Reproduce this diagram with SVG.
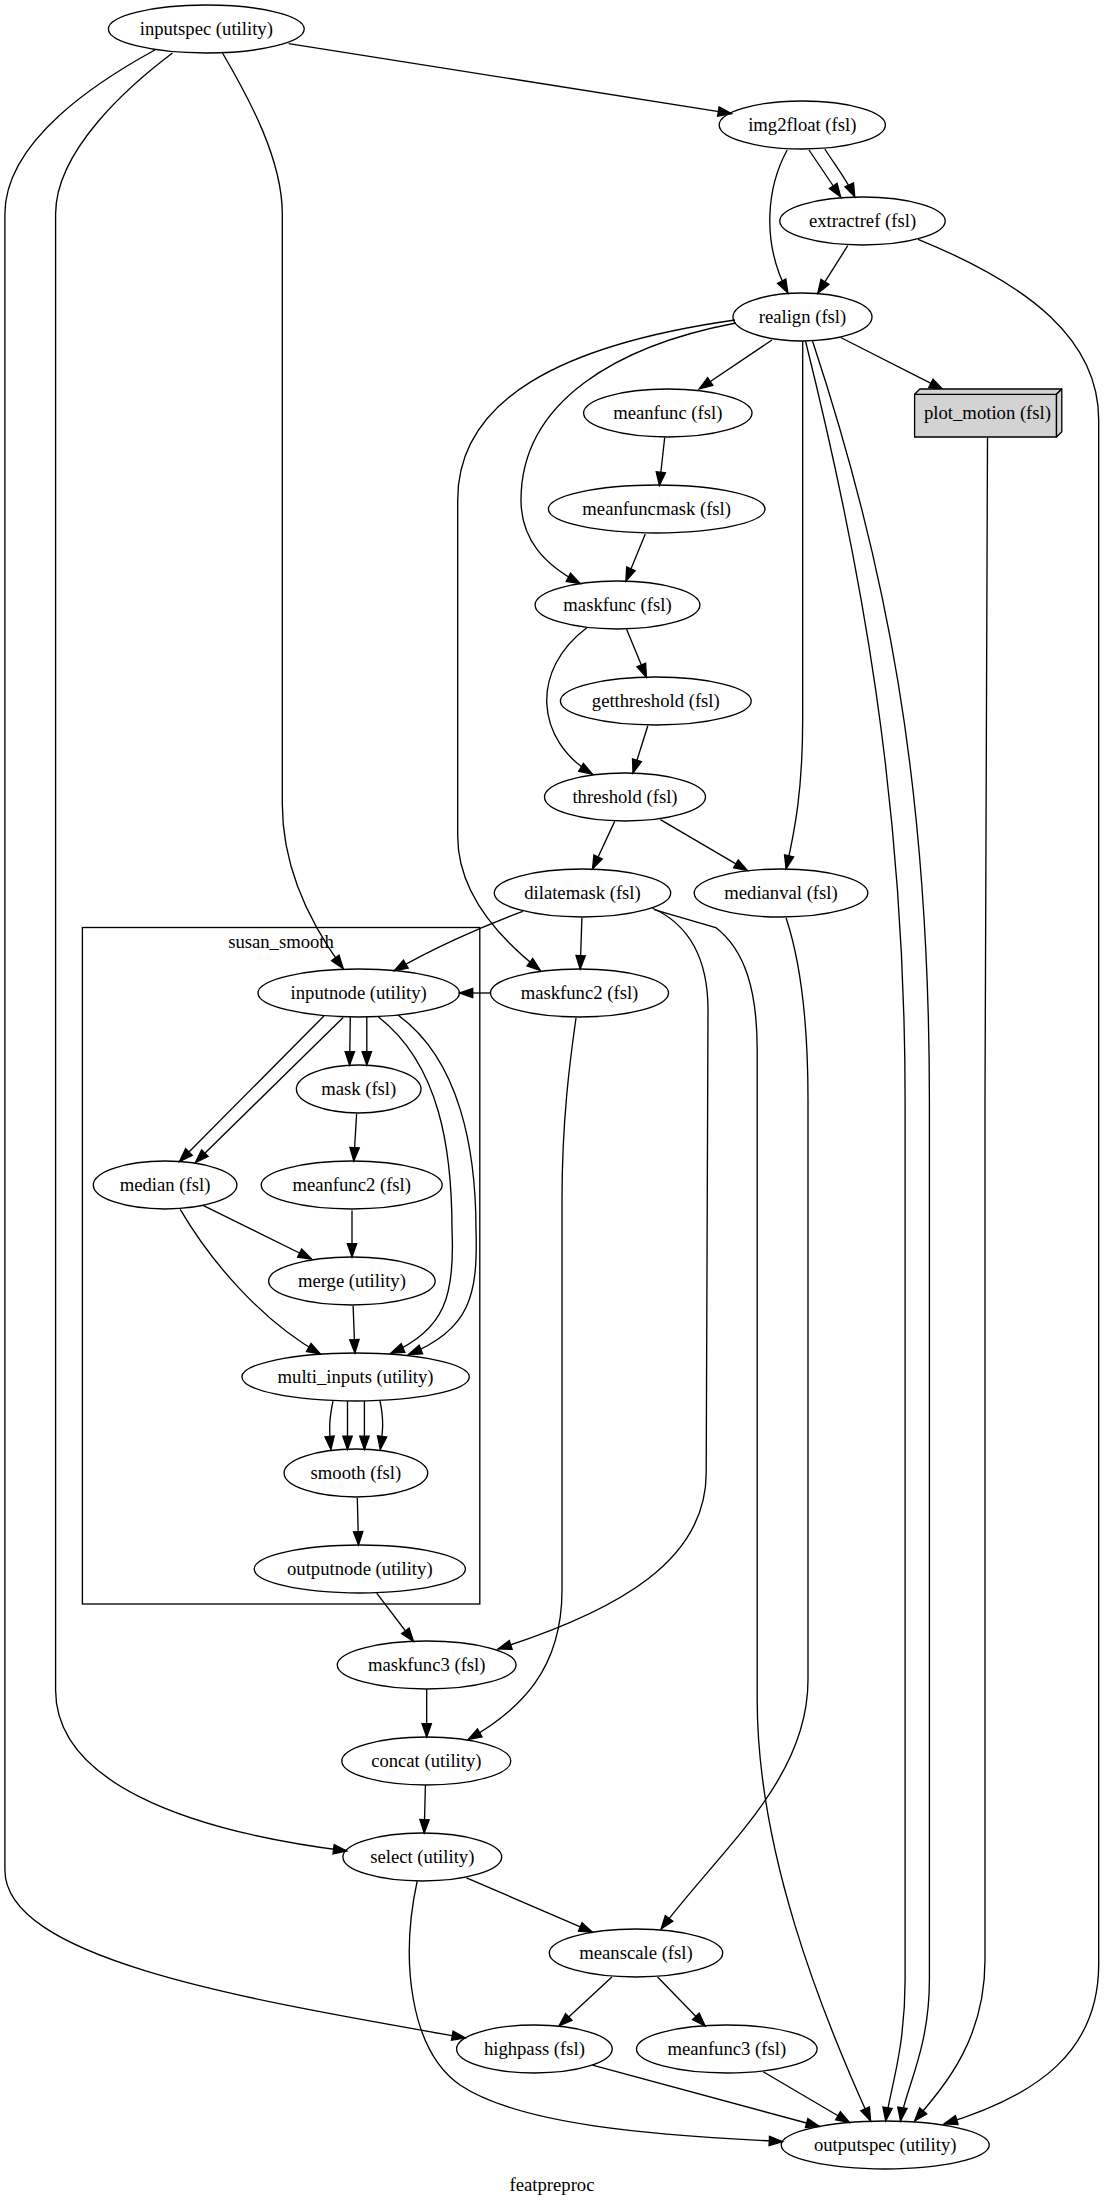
<svg xmlns="http://www.w3.org/2000/svg" width="1104" height="2205" viewBox="0 0 1104 2205">
<style>
.n ellipse{fill:none;stroke:#000;stroke-width:1.33}
text{font-family:"Liberation Serif","Times New Roman",serif;font-size:18.67px;text-anchor:middle;fill:#000}
.e path{fill:none;stroke:#000;stroke-width:1.33;marker-end:url(#arr)}
</style>
<defs>
<marker id="arr" viewBox="0 0 14 10" refX="13.33" refY="5" markerWidth="14" markerHeight="10" markerUnits="userSpaceOnUse" orient="auto" overflow="visible">
<path d="M0,0.33 L13.33,5 L0,9.67 z" fill="#000" stroke="#000" stroke-width="1.33"/>
</marker>
</defs>
<rect width="1104" height="2205" fill="#fff"/>
<g id="cluster_susan_smooth">
<rect x="82.4" y="927.5" width="397.4" height="676.5" fill="none" stroke="#000" stroke-width="1.33"/>
<text x="281" y="948">susan_smooth</text>
</g>
<g class="e" id="connectors">
<path d="M288.7,43.6 L731.5,113.6"/>
<path d="M222.5,53 C250,100 282.3,160 282.3,214 L282.3,804 C282.3,855 300,910 343.2,968.6"/>
<path d="M172.5,53 C130,85 55.6,150 55.6,214 L55.6,1690 C55.6,1780 180,1830 346.8,1851"/>
<path d="M154.9,50 C100,80 4.9,140 4.9,214 L4.9,1870 C4.9,1960 250,2000 465.4,2038"/>
<path d="M809,150 L840.7,197"/>
<path d="M824.8,149 C835,165 847,180 854.8,197"/>
<path d="M787.2,150 C768,185 760,240 787.9,293"/>
<path d="M847.7,245.7 L817.8,293.2"/>
<path d="M918.1,239.3 C1030,285 1098.7,340 1098.7,420 L1098.7,1964 C1098.7,2050 1040,2095 944,2124"/>
<path d="M772,340 L699.2,389"/>
<path d="M840.7,337.5 L942.8,389.3"/>
<path d="M735,320 C560,345 457.7,400 457.7,500 L457.7,836 C457.7,890 495,935 540.4,970.4"/>
<path d="M736,323 C620,345 521,400 521,500 C521,540 545,565 580.2,583.5"/>
<path d="M802.7,341 L802.7,718 C802.7,790 795,830 786.1,868.8"/>
<path d="M805.5,341 C860,560 905.1,800 905.1,1100 L905.1,1980 C905.1,2050 890,2090 885.7,2121"/>
<path d="M812.5,341 C885,560 929.4,780 929.4,1100 L929.4,1980 C929.4,2050 905,2090 900.5,2121"/>
<path d="M987.5,437 L985,1100 L985,1960 C985,2040 945,2085 914.6,2121"/>
<path d="M664.7,437.5 L659.4,485.5"/>
<path d="M645.3,534 L625.9,581.2"/>
<path d="M626.6,629.3 L646.4,677.3"/>
<path d="M587.2,627.5 C530,670 535,740 592.5,774.2"/>
<path d="M647.8,725.7 L633,773"/>
<path d="M614.7,821.4 L592.5,869"/>
<path d="M660.4,819.6 L747.4,870.6"/>
<path d="M786.1,918 C800,960 808,1020 808,1100 L808,1680 C808,1780 720,1850 661.1,1929"/>
<path d="M522.8,911.4 C480,927 430,950 394.3,970.8"/>
<path d="M581.9,917.9 L580.2,969"/>
<path d="M652.3,908 C690,925 708,960 708,1010 L706.2,1473 C706.2,1560 620,1610 498,1649"/>
<path d="M654,909.6 L715.7,927.5 C745,950 757.2,990 757.2,1050 L757.2,1700 C757.2,1850 820,2010 870.6,2121"/>
<path d="M490.4,993 L459.4,993"/>
<path d="M576,1018 C570,1060 562,1120 562,1200 L562,1590 C562,1670 520,1710 468.2,1739.5"/>
<path d="M350.3,1017 L349.6,1065"/>
<path d="M366.8,1017 L366.8,1065"/>
<path d="M323.9,1016 L179.5,1161.5"/>
<path d="M343.2,1017.5 L195.4,1162.5"/>
<path d="M378.5,1017 C440,1065 452,1150 452,1230 C455,1295 445,1330 390.8,1353.3"/>
<path d="M397.9,1015 C460,1060 476,1150 476,1230 C478,1295 470,1330 408.5,1354.5"/>
<path d="M203.5,1205.7 L311.6,1259"/>
<path d="M180.2,1209.3 C210,1260 260,1320 320.4,1354"/>
<path d="M356.6,1113.9 L353.8,1161"/>
<path d="M352,1210.4 L352,1257"/>
<path d="M353.1,1305.7 L354.9,1353"/>
<path d="M333,1401 C329,1420 329,1430 330.9,1449.6"/>
<path d="M347.5,1401 L347.5,1449.5"/>
<path d="M364.4,1401 L364.4,1449.5"/>
<path d="M380,1401 C384,1420 383,1430 380.3,1449.6"/>
<path d="M357.3,1497.9 L358.5,1545"/>
<path d="M376.7,1593.2 L413.5,1641.5"/>
<path d="M426.7,1689 L426.7,1737"/>
<path d="M425.4,1785 L424.2,1833"/>
<path d="M466.5,1877.8 L592.5,1932.2"/>
<path d="M417.2,1881 C400,1960 410,2050 460,2085 C520,2125 650,2135 782.6,2141.6"/>
<path d="M611.9,1977 L559,2026"/>
<path d="M657.6,1977 L705.2,2026"/>
<path d="M592.5,2065.2 L819.5,2126.5"/>
<path d="M763.2,2071.7 L849.5,2122.5"/>
</g>
<g class="n" id="inputspec"><ellipse cx="206.3" cy="29" rx="97.9" ry="24"/><text x="206.3" y="34.5">inputspec (utility)</text></g>
<g class="n" id="img2float"><ellipse cx="802.3" cy="125" rx="83.1" ry="24"/><text x="802.3" y="130.5">img2float (fsl)</text></g>
<g class="n" id="extractref"><ellipse cx="862.5" cy="221" rx="82.7" ry="24"/><text x="862.5" y="226.5">extractref (fsl)</text></g>
<g class="n" id="realign"><ellipse cx="802.5" cy="317" rx="69.5" ry="24"/><text x="802.5" y="322.5">realign (fsl)</text></g>
<g class="n" id="meanfunc"><ellipse cx="667.8" cy="413" rx="84.2" ry="24"/><text x="667.8" y="418.5">meanfunc (fsl)</text></g>
<g id="plot_motion">
<polygon points="914.6,394.3 1056.5,394.3 1056.5,437 914.6,437" fill="#d3d3d3" stroke="#000" stroke-width="1.33"/>
<polygon points="914.6,394.3 919.9,389 1061.8,389 1056.5,394.3" fill="#d3d3d3" stroke="#000" stroke-width="1.33" stroke-linejoin="round"/>
<polygon points="1056.5,394.3 1061.8,389 1061.8,431.7 1056.5,437" fill="#d3d3d3" stroke="#000" stroke-width="1.33" stroke-linejoin="round"/>
<text x="987.5" y="418.5">plot_motion (fsl)</text>
</g>
<g class="n" id="meanfuncmask"><ellipse cx="656.7" cy="509" rx="108.3" ry="24"/><text x="656.7" y="514.5">meanfuncmask (fsl)</text></g>
<g class="n" id="maskfunc"><ellipse cx="617.5" cy="605" rx="82.4" ry="24"/><text x="617.5" y="610.5">maskfunc (fsl)</text></g>
<g class="n" id="getthreshold"><ellipse cx="655.8" cy="701" rx="95.4" ry="24"/><text x="655.8" y="706.5">getthreshold (fsl)</text></g>
<g class="n" id="threshold"><ellipse cx="625" cy="797" rx="80.5" ry="24"/><text x="625" y="802.5">threshold (fsl)</text></g>
<g class="n" id="dilatemask"><ellipse cx="582.5" cy="893" rx="88.2" ry="24"/><text x="582.5" y="898.5">dilatemask (fsl)</text></g>
<g class="n" id="medianval"><ellipse cx="781" cy="893" rx="86.8" ry="24"/><text x="781" y="898.5">medianval (fsl)</text></g>
<g class="n" id="maskfunc2"><ellipse cx="579.5" cy="993" rx="89" ry="24"/><text x="579.5" y="998.5">maskfunc2 (fsl)</text></g>
<g class="n" id="inputnode"><ellipse cx="358.7" cy="993" rx="100.7" ry="24"/><text x="358.7" y="998.5">inputnode (utility)</text></g>
<g class="n" id="mask"><ellipse cx="358.7" cy="1089" rx="62.3" ry="24"/><text x="358.7" y="1094.5">mask (fsl)</text></g>
<g class="n" id="median"><ellipse cx="165.1" cy="1185" rx="71.8" ry="24"/><text x="165.1" y="1190.5">median (fsl)</text></g>
<g class="n" id="meanfunc2"><ellipse cx="351.7" cy="1185" rx="90.5" ry="24"/><text x="351.7" y="1190.5">meanfunc2 (fsl)</text></g>
<g class="n" id="merge"><ellipse cx="351.9" cy="1281" rx="83.3" ry="24"/><text x="351.9" y="1286.5">merge (utility)</text></g>
<g class="n" id="multi_inputs"><ellipse cx="355.6" cy="1377" rx="113.7" ry="24"/><text x="355.6" y="1382.5">multi_inputs (utility)</text></g>
<g class="n" id="smooth"><ellipse cx="355.9" cy="1473" rx="71.8" ry="24"/><text x="355.9" y="1478.5">smooth (fsl)</text></g>
<g class="n" id="outputnode"><ellipse cx="359.8" cy="1569" rx="105.6" ry="24"/><text x="359.8" y="1574.5">outputnode (utility)</text></g>
<g class="n" id="maskfunc3"><ellipse cx="426.7" cy="1665" rx="89.4" ry="24"/><text x="426.7" y="1670.5">maskfunc3 (fsl)</text></g>
<g class="n" id="concat"><ellipse cx="426.3" cy="1761" rx="84.5" ry="24"/><text x="426.3" y="1766.5">concat (utility)</text></g>
<g class="n" id="select"><ellipse cx="422.3" cy="1857" rx="79.4" ry="24"/><text x="422.3" y="1862.5">select (utility)</text></g>
<g class="n" id="meanscale"><ellipse cx="636" cy="1953" rx="86.7" ry="24"/><text x="636" y="1958.5">meanscale (fsl)</text></g>
<g class="n" id="highpass"><ellipse cx="534.4" cy="2049" rx="77.8" ry="24"/><text x="534.4" y="2054.5">highpass (fsl)</text></g>
<g class="n" id="meanfunc3"><ellipse cx="726.8" cy="2049" rx="90.3" ry="24"/><text x="726.8" y="2054.5">meanfunc3 (fsl)</text></g>
<g class="n" id="outputspec"><ellipse cx="885.2" cy="2145" rx="104" ry="24"/><text x="885.2" y="2150.5">outputspec (utility)</text></g>
<text id="graph_label" x="552" y="2191">featpreproc</text>
</svg>
